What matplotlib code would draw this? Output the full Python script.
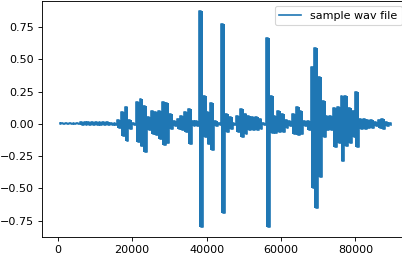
import numpy as np
import matplotlib
matplotlib.use("Agg")
import matplotlib.pyplot as plt

# envelope of the wav signal, one bin per 1000 samples
bin_size = 1000
upper = [0.004, 0.004, 0.004, 0.004, 0.004, 0.004,
         0.012, 0.012, 0.012, 0.012, 0.012, 0.012, 0.012, 0.012,
         0.005, 0.005,
         0.03, 0.09, 0.133, 0.03,
         0.006,
         0.17, 0.19, 0.14, 0.05,
         0.10, 0.09,
         0.10, 0.167, 0.16, 0.08,
         0.02,
         0.04, 0.064, 0.09, 0.115,
         0.02, 0.02,
         0.873, 0.22, 0.09, 0.16,
         0.02, 0.01,
         0.778, 0.077, 0.05,
         0.01,
         0.06, 0.115, 0.08, 0.06, 0.056, 0.056, 0.04,
         0.01,
         0.667, 0.22, 0.064, 0.10, 0.077, 0.03,
         0.02,
         0.08, 0.133, 0.10,
         0.02, 0.02,
         0.44, 0.59, 0.36, 0.18,
         0.06, 0.06,
         0.12, 0.13, 0.22, 0.22, 0.12, 0.10, 0.244,
         0.04, 0.04, 0.03, 0.03, 0.015, 0.03, 0.04, 0.015, 0.01]
lower = [-0.004, -0.004, -0.004, -0.004, -0.004, -0.004,
         -0.012, -0.012, -0.012, -0.012, -0.012, -0.012, -0.012, -0.012,
         -0.005, -0.005,
         -0.03, -0.09, -0.13, -0.04,
         -0.006,
         -0.14, -0.17, -0.22, -0.05,
         -0.075, -0.085,
         -0.12, -0.167, -0.15, -0.04,
         -0.02,
         -0.04, -0.05, -0.065, -0.155,
         -0.02, -0.02,
         -0.797, -0.10, -0.155, -0.20,
         -0.02, -0.01,
         -0.694, -0.06, -0.04,
         -0.01,
         -0.06, -0.10, -0.08, -0.05, -0.05, -0.05, -0.04,
         -0.01,
         -0.797, -0.07, -0.07, -0.06, -0.06, -0.03,
         -0.02,
         -0.08, -0.085, -0.077,
         -0.02, -0.05,
         -0.50, -0.655, -0.41, -0.10,
         -0.05, -0.05,
         -0.18, -0.15, -0.29, -0.17, -0.15, -0.10, -0.18,
         -0.04, -0.04, -0.03, -0.03, -0.015, -0.03, -0.04, -0.015, -0.01]

n = len(upper)
centers = np.arange(n) * bin_size + bin_size / 2

# go up and down through each bin's peaks, like a dense waveform
x = np.repeat(centers, 2)
y = np.empty(2 * n)
y[0::2] = upper
y[1::2] = lower

fig = plt.figure(figsize=(402 / 80, 254 / 80), dpi=80)
ax = fig.add_axes([0.1037, 0.065, 0.91, 0.933])
ax.fill_between(centers, lower, upper, step='mid', color='C0', linewidth=0)
ax.plot(x, y, color='C0', drawstyle='steps-mid', label='sample wav file')
ax.set_xlim(-4300, 94000)
ax.legend(loc='upper right')

fig.savefig('out.png', dpi=80)
